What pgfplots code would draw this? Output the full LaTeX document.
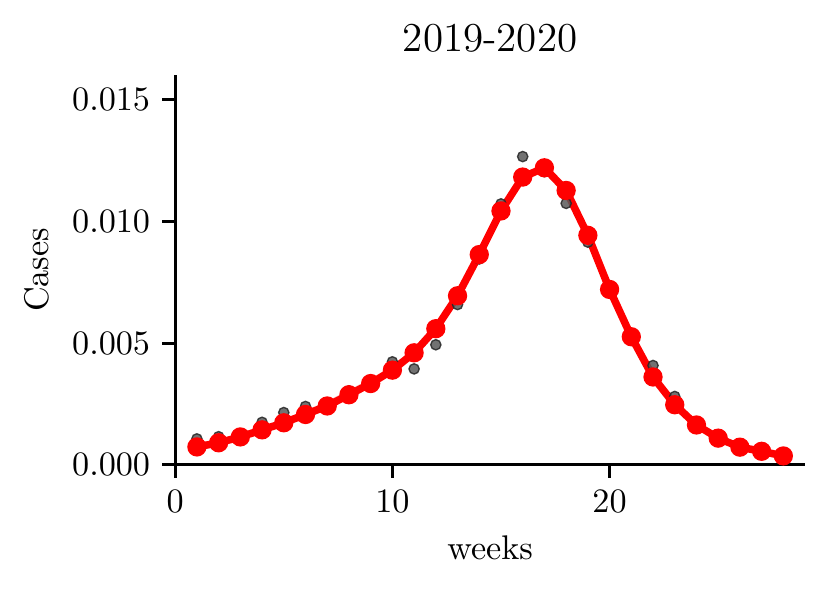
\documentclass[border=0pt]{standalone}
\usepackage{pgfplots}
\pgfplotsset{compat=1.18}
\usepgfplotslibrary{fillbetween}
\usepackage{pgfplotstable}

\pgfplotstableread{
w  y        lo       hi
1  0.00074  0.00066  0.00082
2  0.00091  0.00083  0.00100
3  0.00115  0.00107  0.00125
4  0.00144  0.00136  0.00156
5  0.00173  0.00165  0.00188
6  0.00207  0.00199  0.00224
7  0.00242  0.00234  0.00262
8  0.00288  0.00280  0.00308
9  0.00334  0.00326  0.00354
10 0.00389  0.00380  0.00407
11 0.00460  0.00451  0.00474
12 0.00559  0.00550  0.00570
13 0.00694  0.00684  0.00704
14 0.00863  0.00853  0.00873
15 0.01042  0.01032  0.01052
16 0.01181  0.01171  0.01191
17 0.01219  0.01209  0.01229
18 0.01126  0.01116  0.01136
19 0.00942  0.00932  0.00952
20 0.00720  0.00710  0.00730
21 0.00526  0.00514  0.00536
22 0.00361  0.00348  0.00371
23 0.00247  0.00232  0.00255
24 0.00164  0.00148  0.00171
25 0.00110  0.00094  0.00117
26 0.00073  0.00058  0.00080
27 0.00056  0.00042  0.00062
28 0.00037  0.00024  0.00043
}\fitted

\pgfplotstableread{
w  y
1  0.00107
2  0.00116
3  0.00115
4  0.00175
5  0.00215
6  0.00240
7  0.00237
8  0.00304
9  0.00349
10 0.00423
11 0.00394
12 0.00493
13 0.00658
14 0.00845
15 0.01071
16 0.01265
17 0.01203
18 0.01073
19 0.00914
20 0.00719
21 0.00537
22 0.00408
23 0.00281
24 0.00171
25 0.00108
26 0.00070
27 0.00058
28 0.00040
}\observed

\begin{document}
\begin{tikzpicture}
\begin{axis}[
  scale only axis,
  width=184.1pt, height=114.0pt,
  xmin=0, xmax=29, ymin=0, ymax=0.016,
  axis x line*=bottom, axis y line*=left,
  axis line style={line width=0.9pt, -},
  every tick/.style={line width=0.9pt, black},
  tick align=outside,
  major tick length=3.8pt,
  xtick={0,10,20},
  ytick={0,0.005,0.010,0.015},
  scaled y ticks=false,
  yticklabel style={/pgf/number format/.cd, fixed, fixed zerofill, precision=3},
  tick label style={font=\normalsize},
  xlabel={weeks}, ylabel={Cases},
  xlabel style={at={(axis description cs:0.5,-0.213)}, anchor=center},
  ylabel style={at={(axis description cs:-0.219,0.5)}, anchor=center},
  title={2019-2020},
  title style={at={(axis description cs:0.5,1.041)}, anchor=center, font=\fontsize{12}{14}\selectfont},
  clip=false,
]
\addplot[name path=hi, draw=none, forget plot] table[x=w, y=hi] {\fitted};
\addplot[name path=lo, draw=none, forget plot] table[x=w, y=lo] {\fitted};
\addplot[red!40, fill opacity=0.6, draw=none] fill between[of=hi and lo];
\addplot[only marks, mark=*, mark size=1.5pt,
  mark options={fill=black!65, draw=black!85, line width=0.4pt, opacity=0.85}]
  table[x=w, y=y] {\observed};
\addplot[red, line width=2.2pt, mark=*, mark size=1.7pt,
  mark options={solid, fill=red, draw=none}]
  table[x=w, y=y] {\fitted};
\end{axis}
\pgfresetboundingbox
\path ([shift={(-51.2pt,-37.1pt)}]current axis.south west) rectangle ([shift={(7.0pt,21.9pt)}]current axis.north east);
\end{tikzpicture}
\end{document}
